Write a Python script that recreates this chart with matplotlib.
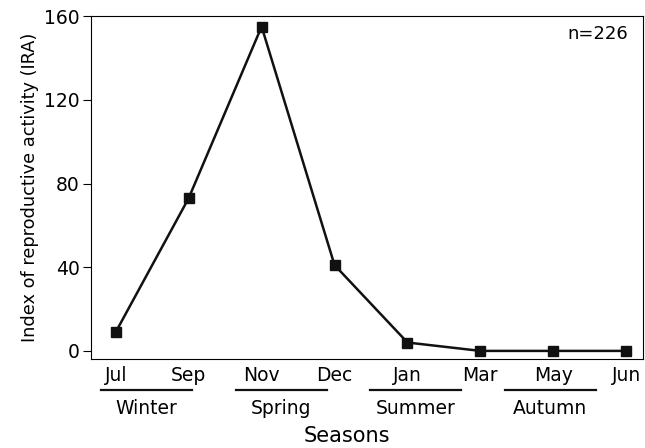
import numpy as np
import matplotlib.pyplot as plt
from matplotlib import transforms

months = ['Jul', 'Sep', 'Nov', 'Dec', 'Jan', 'Mar', 'May', 'Jun']
ira = [9, 73, 155, 41, 4, 0, 0, 0]
seasons = ['Winter', 'Spring', 'Summer', 'Autumn']
season_centers = [0.42, 2.27, 4.11, 5.96]

plt.rcParams['font.family'] = 'DejaVu Sans'

fig = plt.figure(figsize=(6.45, 4.48), dpi=100)
ax = fig.add_axes([0.141, 0.199, 0.856, 0.765])

x = np.arange(len(months))
ax.plot(x, ira, color='#111111', lw=1.8, marker='s', markersize=6.5)

ax.set_xlim(-0.34, 7.23)
ax.set_ylim(-3.8, 160)
ax.set_yticks([0, 40, 80, 120, 160])
ax.set_xticks(x)
ax.set_xticklabels(months)
ax.tick_params(axis='x', length=0, pad=5, labelsize=13.5)
ax.tick_params(axis='y', length=6, pad=2, labelsize=13.5)
ax.set_ylabel('Index of reproductive activity (IRA)', fontsize=12.8, labelpad=4)

# season bars and names under the month labels
trans = transforms.blended_transform_factory(ax.transData, ax.transAxes)
for name, c in zip(seasons, season_centers):
    ax.plot([c - 0.62, c + 0.62], [-0.09, -0.09], color='#111111', lw=1.6,
            transform=trans, clip_on=False)
    ax.text(c, -0.145, name, transform=trans, ha='center', va='center', fontsize=13.5)

fig.text(347 / 645, 1 - 436 / 448, 'Seasons', ha='center', va='center', fontsize=15)
ax.text(0.973, 0.975, 'n=226', transform=ax.transAxes, ha='right', va='top', fontsize=13)

fig.savefig('out.png', dpi=100)
